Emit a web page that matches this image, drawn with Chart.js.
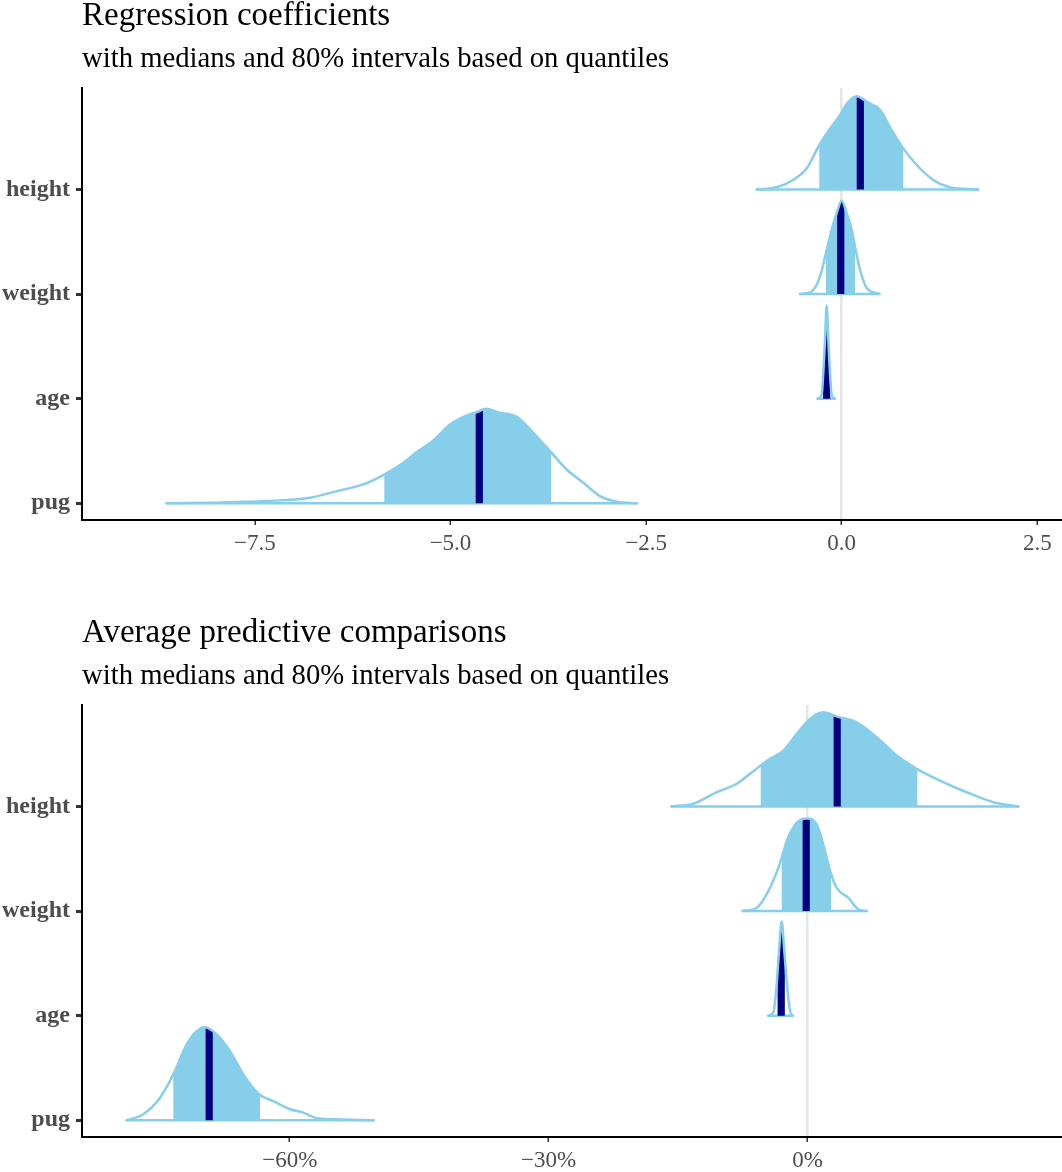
<!DOCTYPE html>
<html>
<head>
<meta charset="utf-8">
<script src="https://cdn.jsdelivr.net/npm/chart.js@4"></script>
<style>
  body { margin: 0; background: #fff; }
  #wrap { position: relative; width: 1062px; height: 1172px; overflow: hidden; }
  canvas { position: absolute; left: 0; }
  #coefChart { top: 0; }
  #apcChart { top: 617px; }
</style>
</head>
<body>
<div id="wrap">
  <canvas id="coefChart" width="1062" height="560"></canvas>
  <canvas id="apcChart" width="1062" height="555"></canvas>
</div>
<script>
/* rows, top to bottom */
const rowNames = ['height', 'weight', 'age', 'pug'];

/* Regression coefficients: density outlines */
const coefHeightX = [-1.086, -0.831, -0.622, -0.447, -0.286, -0.150, -0.022, 0.084, 0.192, 0.320, 0.490, 0.617, 0.787, 0.959, 1.171, 1.384, 1.742];
const coefHeightD = [0, 0.021, 0.091, 0.202, 0.425, 0.580, 0.711, 0.838, 0.892, 0.838, 0.762, 0.595, 0.393, 0.234, 0.091, 0.021, 0];
const coefWeightX = [-0.533, -0.383, -0.277, -0.201, -0.128, -0.064, 0, 0.064, 0.128, 0.170, 0.234, 0.320, 0.481];
const coefWeightD = [0, 0.025, 0.168, 0.391, 0.614, 0.773, 0.893, 0.773, 0.614, 0.454, 0.232, 0.057, 0];
const coefAgeX = [-0.307, -0.256, -0.235, -0.213, -0.192, -0.171, -0.150, -0.128, -0.086];
const coefAgeD = [0, 0.039, 0.246, 0.564, 0.888, 0.564, 0.246, 0.039, 0];
const coefPugX = [-8.627, -7.988, -7.349, -6.796, -6.454, -6.115, -5.859, -5.603, -5.432, -5.220, -5.006, -4.793, -4.632, -4.559, -4.367, -4.154, -3.942, -3.728, -3.515, -3.303, -3.089, -2.876, -2.620];
const coefPugD = [0, 0.006, 0.021, 0.053, 0.116, 0.180, 0.269, 0.387, 0.489, 0.600, 0.753, 0.839, 0.880, 0.903, 0.865, 0.826, 0.674, 0.498, 0.323, 0.197, 0.069, 0.015, 0];
const coefMedian = [0.238, -0.012, -0.192, -4.632];
const coefLow = [-0.286, -0.201, -0.22, -5.846];
const coefHigh = [0.787, 0.170, -0.165, -3.715];
const coefTicks = [-7.5, -5, -2.5, 0, 2.5];
const coefTickLabels = ['\u22127.5', '\u22125.0', '\u22122.5', '0.0', '2.5'];

/* Average predictive comparisons (%) */
const apcHeightX = [-15.74, -13.23, -10.52, -8.20, -6.66, -5.42, -4.35, -2.80, -1.25, 0.29, 1.83, 3.44, 5.70, 8.02, 10.34, 12.65, 15.35, 18.45, 21.53, 24.43];
const apcHeightD = [0, 0.026, 0.136, 0.217, 0.312, 0.391, 0.455, 0.534, 0.694, 0.837, 0.900, 0.859, 0.804, 0.661, 0.487, 0.360, 0.248, 0.136, 0.041, 0];
const apcWeightX = [-7.51, -5.89, -4.54, -3.38, -2.99, -2.41, -1.25, -0.09, 1.07, 2.03, 2.69, 3.38, 4.73, 5.89, 6.86];
const apcWeightD = [0, 0.031, 0.191, 0.413, 0.509, 0.668, 0.843, 0.885, 0.827, 0.573, 0.365, 0.222, 0.127, 0.016, 0];
const apcAgeX = [-4.54, -3.96, -3.57, -3.30, -2.99, -2.69, -2.38, -2.03, -1.71];
const apcAgeD = [0, 0.031, 0.302, 0.620, 0.900, 0.620, 0.302, 0.048, 0];
const apcPugX = [-78.89, -76.97, -75.03, -73.49, -71.94, -70.78, -69.81, -68.46, -66.92, -65.38, -63.44, -61.90, -59.97, -58.42, -56.87, -54.95, -50.31];
const apcPugD = [0, 0.057, 0.216, 0.439, 0.725, 0.852, 0.890, 0.821, 0.661, 0.439, 0.241, 0.184, 0.105, 0.073, 0.019, 0.010, 0];
const apcMedian = [3.44, -0.15, -3.05, -69.33];
const apcLow = [-5.42, -2.99, -3.4, -73.49];
const apcHigh = [12.72, 2.72, -2.65, -63.44];
const apcTicks = [-60, -30, 0];
const apcTickLabels = ['\u221260%', '\u221230%', '0%'];

const LIGHT = '#87ceeb';
const DARK = '#000080';
const FONT = "'Liberation Serif', 'Times New Roman', serif";

/* paints the 80% interval and the median band under each outline */
const ridgeFill = {
  id: 'ridgeFill',
  beforeDatasetDraw(chart, args) {
    const ds = chart.data.datasets[args.index];
    if (!ds.band) return;
    const ctx = chart.ctx, area = chart.chartArea;
    const xs = chart.scales.x, ys = chart.scales.y;
    const line = args.meta.dataset;
    const pts = args.meta.data;
    line.updateControlPoints(area, 'x');
    const basePx = ys.getPixelForValue(ds.band.base);
    const paint = (x0, x1, color) => {
      ctx.save();
      ctx.beginPath();
      ctx.rect(x0, area.top, x1 - x0, basePx - area.top + 1);
      ctx.clip();
      ctx.beginPath();
      line.path(ctx);
      ctx.lineTo(pts[pts.length - 1].x, basePx);
      ctx.lineTo(pts[0].x, basePx);
      ctx.closePath();
      ctx.fillStyle = color;
      ctx.fill();
      ctx.restore();
    };
    paint(xs.getPixelForValue(ds.band.lo), xs.getPixelForValue(ds.band.hi), LIGHT);
    const m = xs.getPixelForValue(ds.band.med);
    paint(m - 3.6, m + 3.6, DARK);
  }
};

function makeChart(id, title, xsList, dsList, med, lo, hi, ticks, tickLabels, xMin, xMax) {
  let datasets = [];
  for (let i = 0; i < rowNames.length; i++) {
    const base = 4 - i;
    const xs = xsList[i], dens = dsList[i];
    datasets.push({
      data: xs.map((x, j) => ({ x: x, y: base + dens[j] })),
      borderColor: LIGHT,
      borderWidth: 2.5,
      pointRadius: 0,
      fill: false,
      cubicInterpolationMode: 'monotone',
      borderCapStyle: 'round',
      band: { base: base, lo: lo[i], hi: hi[i], med: med[i] },
    });
    datasets.push({
      data: [{ x: xs[0], y: base }, { x: xs[xs.length - 1], y: base }],
      borderColor: LIGHT,
      borderWidth: 2.5,
      pointRadius: 0,
      fill: false,
      borderCapStyle: 'round',
    });
  }

  return new Chart(document.getElementById(id), {
    type: 'line',
    plugins: [ridgeFill],
    data: { datasets: datasets },
    options: {
      responsive: false,
      animation: false,
      events: [],
      layout: { padding: 0 },
      scales: {
        x: {
          type: 'linear',
          min: xMin,
          max: xMax,
          afterBuildTicks: (s) => { s.ticks = ticks.map(v => ({ value: v })); },
          afterFit: (s) => { s.height = s.chart.height - 520; },
          ticks: {
            callback: (v, i) => tickLabels[i],
            color: '#4d4d4d',
            font: { family: FONT, size: 23 },
            padding: 5,
            maxRotation: 0,
            autoSkip: false,
          },
          grid: {
            color: (c) => (c.tick && c.tick.value === 0 ? '#e5e5e5' : 'rgba(0,0,0,0)'),
            lineWidth: 2.5,
            tickColor: '#333',
            tickLength: 5,
            tickWidth: 1.5,
          },
          border: { display: true, color: '#000', width: 2 },
        },
        y: {
          type: 'linear',
          min: 0.84,
          max: 4.97,
          afterBuildTicks: (s) => { s.ticks = rowNames.map((n, i) => ({ value: 4 - i })); },
          afterFit: (s) => { s.width = 82; },
          ticks: {
            callback: (v) => rowNames[4 - v],
            color: '#4d4d4d',
            font: { family: FONT, size: 24, weight: 'bold' },
            padding: 6,
          },
          grid: {
            drawOnChartArea: false,
            color: 'rgba(0,0,0,0)',
            tickColor: '#333',
            tickLength: 6,
            tickWidth: 3,
          },
          border: { display: true, color: '#000', width: 2 },
        },
      },
      plugins: {
        legend: { display: false },
        tooltip: { enabled: false },
        title: {
          display: true,
          text: title,
          align: 'start',
          fullSize: false,
          color: '#000',
          font: { family: FONT, size: 33, weight: 'normal', lineHeight: 1 },
          padding: { top: 0, bottom: 0 },
        },
        subtitle: {
          display: true,
          text: 'with medians and 80% intervals based on quantiles',
          align: 'start',
          fullSize: false,
          color: '#000',
          font: { family: FONT, size: 28.7, weight: 'normal', lineHeight: 1 },
          padding: { top: 12, bottom: 14.3 },
        },
      },
    },
  });
}

makeChart('coefChart', 'Regression coefficients',
  [coefHeightX, coefWeightX, coefAgeX, coefPugX],
  [coefHeightD, coefWeightD, coefAgeD, coefPugD],
  coefMedian, coefLow, coefHigh, coefTicks, coefTickLabels, -9.71, 2.816);

makeChart('apcChart', 'Average predictive comparisons',
  [apcHeightX, apcWeightX, apcAgeX, apcPugX],
  [apcHeightD, apcWeightD, apcAgeD, apcPugD],
  apcMedian, apcLow, apcHigh, apcTicks, apcTickLabels, -84.07, 29.49);
</script>
</body>
</html>
